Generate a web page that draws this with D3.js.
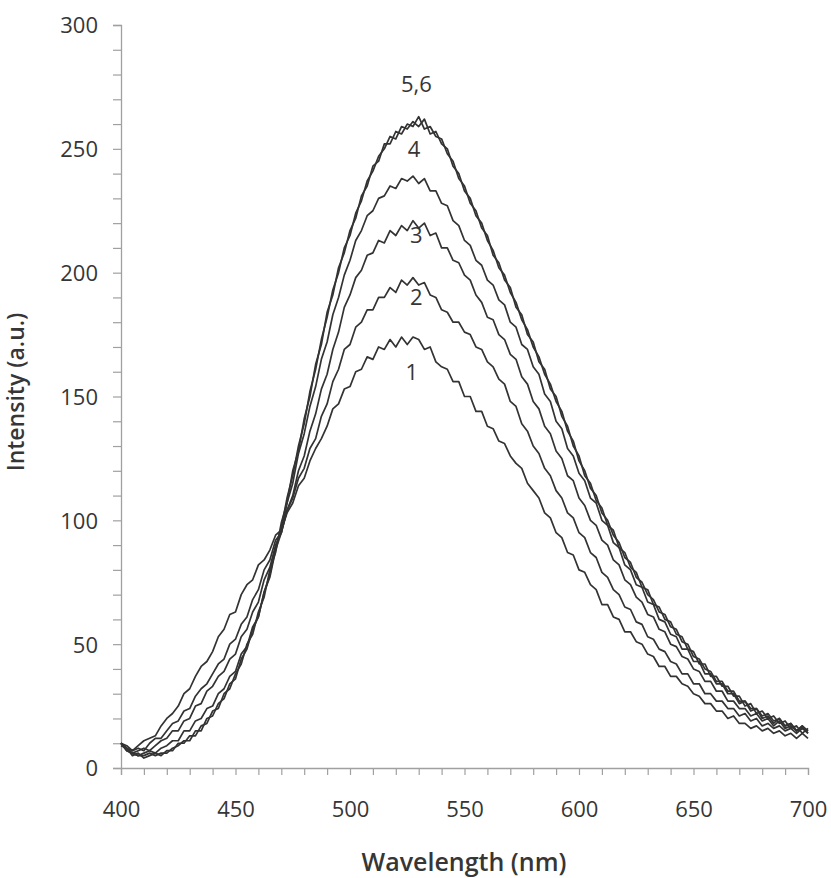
<!DOCTYPE html>
<html>
<head>
<meta charset="utf-8">
<script src="https://cdn.jsdelivr.net/npm/d3@7/dist/d3.min.js"></script>
<style>
  html, body { margin: 0; padding: 0; background: #ffffff; }
  svg { display: block; }
  text { font-family: "Open Sans", "Liberation Sans", sans-serif; fill: #363636; }
</style>
</head>
<body>
<svg id="chart" width="831" height="878"></svg>
<script>
// Emission wavelength grid (nm), 2.5 nm step
const wavelengths = [
  400,402.5,405,407.5,410,412.5,415,417.5,420,422.5,
  425,427.5,430,432.5,435,437.5,440,442.5,445,447.5,
  450,452.5,455,457.5,460,462.5,465,467.5,470,472.5,
  475,477.5,480,482.5,485,487.5,490,492.5,495,497.5,
  500,502.5,505,507.5,510,512.5,515,517.5,520,522.5,
  525,527.5,530,532.5,535,537.5,540,542.5,545,547.5,
  550,552.5,555,557.5,560,562.5,565,567.5,570,572.5,
  575,577.5,580,582.5,585,587.5,590,592.5,595,597.5,
  600,602.5,605,607.5,610,612.5,615,617.5,620,622.5,
  625,627.5,630,632.5,635,637.5,640,642.5,645,647.5,
  650,652.5,655,657.5,660,662.5,665,667.5,670,672.5,
  675,677.5,680,682.5,685,687.5,690,692.5,695,697.5,
  700];

// Fluorescence intensity (a.u.) for spectra 1–6
const spectrum1 = [
  10,9,7,9,11,12,13,17,20,22,
  25,30,32,37,41,43,47,53,56,62,
  63,70,74,76,82,84,88,94,96,103,
  107,114,117,124,129,133,138,145,147,153,
  154,160,161,166,165,170,169,173,170,174,
  171,174,173,169,170,164,162,161,156,156,
  150,150,144,144,138,137,132,131,126,123,
  121,115,112,109,103,101,95,93,87,86,
  80,79,74,72,66,66,61,60,55,55,
  51,50,46,45,41,41,37,37,34,33,
  30,29,26,26,23,23,20,21,18,18,
  16,17,15,16,14,15,13,14,12,14,
  12];
const spectrum2 = [
  10,8,7,8,7,10,12,12,15,18,
  19,23,24,29,32,34,38,42,44,50,
  52,58,61,68,72,80,84,92,95,104,
  109,117,121,129,133,142,147,156,161,169,
  171,178,180,185,185,190,190,194,192,197,
  195,198,195,196,191,190,185,184,180,180,
  176,175,170,169,164,162,157,155,148,146,
  139,136,130,127,121,118,112,109,103,101,
  95,93,87,85,79,77,72,70,65,64,
  59,58,53,52,48,47,43,42,38,38,
  34,34,30,30,27,27,24,24,21,22,
  19,20,17,18,16,17,15,16,14,16,
  14];
const spectrum3 = [
  10,8,6,7,8,7,9,11,12,15,
  15,19,20,25,26,31,33,37,39,44,
  46,53,56,63,67,76,81,90,95,104,
  110,120,126,136,143,153,159,169,176,186,
  191,198,201,207,208,213,212,217,215,219,
  217,221,218,220,215,216,210,210,205,204,
  199,197,191,188,182,181,175,173,167,165,
  158,155,148,145,138,135,128,125,118,116,
  109,106,100,98,92,90,84,82,76,74,
  69,67,62,61,56,55,50,49,45,44,
  40,39,35,35,31,31,27,27,24,24,
  21,22,19,20,17,19,16,17,15,16,
  15];
const spectrum4 = [
  10,7,6,5,6,7,6,8,9,11,
  11,15,15,19,20,24,25,30,32,37,
  39,46,49,57,61,71,77,88,95,107,
  115,127,135,146,154,165,172,183,190,199,
  205,213,217,223,225,230,231,235,234,238,
  237,239,236,238,233,233,228,227,221,219,
  213,211,205,203,197,195,189,187,180,178,
  171,169,162,159,151,148,140,137,129,126,
  119,116,109,107,100,98,91,89,82,80,
  74,73,67,66,60,59,54,53,48,48,
  43,43,38,38,34,34,30,30,26,27,
  23,24,20,21,18,20,17,18,15,17,
  15];
const spectrum5 = [
  10,7,6,5,5,6,5,6,6,8,
  9,11,11,15,15,20,21,26,28,34,
  36,44,48,56,61,71,78,89,97,109,
  118,130,139,152,161,173,182,193,200,210,
  215,224,229,237,241,247,250,255,254,259,
  258,261,259,262,256,257,252,250,243,240,
  233,230,223,220,213,209,202,199,192,188,
  181,177,170,166,159,155,148,144,136,132,
  124,120,113,110,103,100,94,91,85,83,
  77,75,70,68,63,62,57,56,51,50,
  45,44,40,39,35,35,31,31,27,27,
  24,24,21,22,19,20,17,18,15,17,
  14];
const spectrum6 = [
  9,8,5,6,4,5,6,5,7,7,
  10,10,13,13,17,18,23,24,30,32,
  38,42,50,54,63,69,80,87,99,107,
  120,128,141,150,163,171,184,191,202,208,
  217,222,231,235,243,245,252,252,257,256,
  260,259,263,258,259,255,254,248,245,238,
  235,228,225,218,215,207,204,197,194,186,
  183,175,172,164,161,153,150,142,138,130,
  126,118,115,108,105,98,96,89,87,81,
  79,73,72,66,65,60,59,54,53,48,
  47,42,42,37,37,33,33,29,29,25,
  26,22,23,20,21,18,19,16,17,14,
  16];

const seriesList = [spectrum1, spectrum2, spectrum3, spectrum4, spectrum5, spectrum6];

// Curve annotations and where they sit (wavelength, intensity)
const curveLabels = ["5,6", "4", "3", "2", "1"];
const labelWavelengths = [529, 528, 529, 529, 527];
const labelIntensities = [276, 250, 215, 190, 160];

// Labelled axis ticks
const xMajorTicks = [400, 450, 500, 550, 600, 650, 700];
const yMajorTicks = [0, 50, 100, 150, 200, 250, 300];

const margin = { left: 121, top: 25, right: 23, bottom: 110 };
const W = 831, H = 878;
const plotW = W - margin.left - margin.right;
const plotH = H - margin.top - margin.bottom;
const svg = d3.select("#chart");

const x = d3.scaleLinear().domain([400, 700]).range([0, plotW]);
const y = d3.scaleLinear().domain([0, 300]).range([plotH, 0]);

const g = svg.append("g").attr("transform", `translate(${margin.left},${margin.top})`);

// Y axis: a tick every 10, a label every 50
const yAxis = d3.axisLeft(y)
  .tickValues(d3.range(0, 301, 10))
  .tickSize(8)
  .tickPadding(15)
  .tickFormat(d => yMajorTicks.includes(d) ? d : "");
const gy = g.append("g").call(yAxis);

// X axis: a tick every 10, a label every 50
const xAxis = d3.axisBottom(x)
  .tickValues(d3.range(400, 701, 10))
  .tickSize(7)
  .tickPadding(26)
  .tickFormat(d => xMajorTicks.includes(d) ? d : "");
const gx = g.append("g").attr("transform", `translate(0,${plotH})`).call(xAxis);

[gx, gy].forEach(a => {
  a.select(".domain").attr("stroke", "#a0a0a0").attr("stroke-width", 1.3);
  a.selectAll(".tick line").attr("stroke", "#a0a0a0").attr("stroke-width", 1.2);
  a.selectAll(".tick text")
    .style("font-family", "'Open Sans', sans-serif")
    .style("font-size", "22px")
    .attr("fill", "#363636");
});
gy.selectAll(".tick text").attr("dy", "0.36em");

// Spectra
const line = d3.line()
  .x((d, i) => x(wavelengths[i]))
  .y(d => y(d))
  .curve(d3.curveLinear);

g.append("g")
  .selectAll("path")
  .data(seriesList)
  .join("path")
  .attr("d", d => line(d))
  .attr("fill", "none")
  .attr("stroke", "#333333")
  .attr("stroke-width", 1.7)
  .attr("stroke-linejoin", "round");

// Curve numbers
g.append("g")
  .selectAll("text")
  .data(curveLabels)
  .join("text")
  .attr("x", (d, i) => x(labelWavelengths[i]))
  .attr("y", (d, i) => y(labelIntensities[i]))
  .attr("text-anchor", "middle")
  .attr("dy", "0.36em")
  .style("font-size", "22px")
  .text(d => d);

// Axis titles
svg.append("text")
  .attr("x", 464)
  .attr("y", 871)
  .attr("text-anchor", "middle")
  .style("font-size", "25px")
  .style("font-weight", 600)
  .text("Wavelength (nm)");

svg.append("text")
  .attr("transform", "translate(24,392) rotate(-90)")
  .attr("text-anchor", "middle")
  .style("font-size", "23px")
  .style("font-weight", 600)
  .text("Intensity (a.u.)");
</script>
</body>
</html>
